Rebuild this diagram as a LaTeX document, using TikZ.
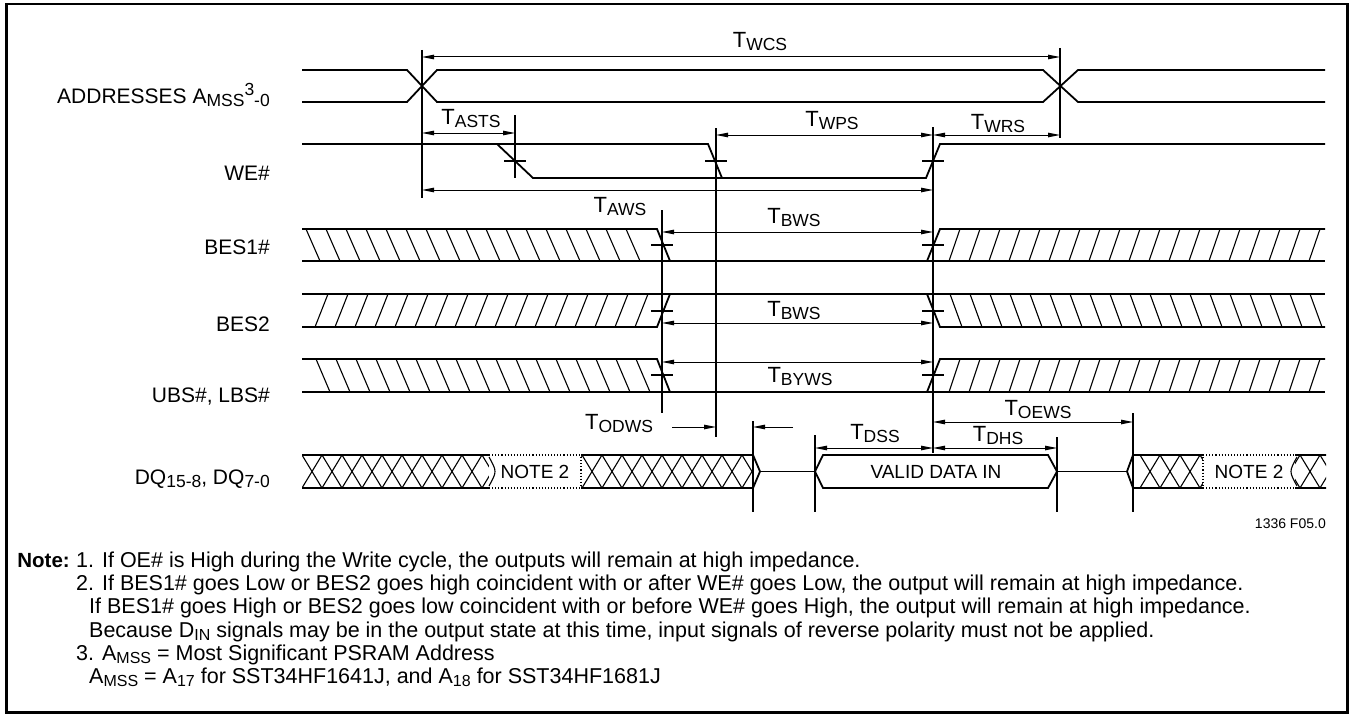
\documentclass[tikz,border=0pt]{standalone}
\usepackage{fontspec}
\setmainfont{Liberation Sans}
\usetikzlibrary{arrows.meta}
\newcommand{\lsub}[1]{\raisebox{-3pt}{\fontsize{17.5}{17.5}\selectfont #1}}
\newcommand{\lsup}[1]{\raisebox{7.5pt}{\fontsize{17.5}{17.5}\selectfont #1}}
\newcommand{\tname}[1]{T\lsub{#1}}
\newcommand{\nsub}[1]{\raisebox{-3pt}{\fontsize{16}{16}\selectfont #1}}
\begin{document}
\begin{tikzpicture}[x=1pt,y=-1pt,line join=miter,
 sig/.style={line width=1.8pt},
 hat/.style={line width=1.1pt},
 guide/.style={line width=1.4pt},
 dimline/.style={line width=1pt,{Triangle[length=12pt,width=4.5pt]}-{Triangle[length=12pt,width=4.5pt]}},
 dimone/.style={line width=1pt,-{Triangle[length=12pt,width=4.5pt]}},
 siglabel/.style={anchor=base east,inner sep=0pt,font=\fontsize{21}{24}\selectfont},
 tlabel/.style={inner sep=0pt,font=\fontsize{22}{24}\selectfont},
 notetext/.style={anchor=base west,inner sep=0pt,font=\fontsize{21.5}{24}\selectfont},
 boxtext/.style={inner sep=0pt,font=\fontsize{19}{20}\selectfont},
]
\useasboundingbox (0,0) rectangle (1351,717);
\draw[line width=2.5pt] (6.5,4) rectangle (1347.5,712.5);

% signal labels
\node[siglabel] (lAddr) at (270,103) {ADDRESSES A\lsub{MSS}\lsup{3}\lsub{-0}};
\node[siglabel] (lWE) at (270,180) {WE\#};
\node[siglabel] (lB1) at (270,254) {BES1\#};
\node[siglabel] (lB2) at (270,331) {BES2};
\node[siglabel] (lUB) at (270,402) {UBS\#, LBS\#};
\node[siglabel] (lDQ) at (270,484) {DQ\lsub{15-8}, DQ\lsub{7-0}};

% addresses
\draw[sig] (302,70) -- (407,70) -- (437,102) -- (1043,102) -- (1078,70) -- (1325,70);
\draw[sig] (302,102) -- (407,102) -- (437,70) -- (1043,70) -- (1078,102) -- (1325,102);

% WE#
\draw[sig] (302,144) -- (708,144) -- (722,178) -- (926,178) -- (940,144) -- (1325,144);
\draw[sig] (497,144) -- (533,178) -- (722,178);

% BES1#
\draw[sig] (302,229) -- (657,229) -- (670,261);
\draw[sig] (302,261) -- (1325,261);
\draw[sig] (927,261) -- (940,229) -- (1325,229);
\foreach \b in {320,340,...,640} \draw[hat] ({\b-14},229) -- (\b,261);
\foreach \b in {949,969,...,1309} \draw[hat] (\b,261) -- ({\b+11},229);

% BES2
\draw[sig] (302,294) -- (1325,294);
\draw[sig] (302,327) -- (657,327) -- (670,294);
\draw[sig] (927,294) -- (940,327) -- (1325,327);
\foreach \b in {315,335,...,635} \draw[hat] (\b,327) -- ({\b+13},294);
\foreach \t in {950,970,...,1310} \draw[hat] (\t,294) -- ({\t+12},327);

% UBS#, LBS#
\draw[sig] (302,359) -- (657,359) -- (670,392);
\draw[sig] (302,392) -- (1325,392);
\draw[sig] (927,392) -- (940,359) -- (1325,359);
\foreach \b in {330,350,...,650} \draw[hat] ({\b-14},359) -- (\b,392);
\foreach \b in {949,969,...,1309} \draw[hat] (\b,392) -- ({\b+11},359);

% DQ left
\draw[sig] (302,455) -- (753,455) -- (760,471.5) -- (753,488) -- (302,488);
\begin{scope}
 \clip (302,455) rectangle (753,488);
 \foreach \k in {0,...,22} {
  \draw[hat] ({302+20*\k},455) -- ({322+20*\k},488);
  \draw[hat] ({322+20*\k},455) -- ({302+20*\k},488);
 }
\end{scope}
\fill[white] (489,453) rectangle (581,490);
\draw[hat,dotted] (489,455) -- (581,455);
\draw[hat,dotted] (489,488) -- (581,488);
\draw[hat] (489,457) .. controls (497,471.5) .. (489,486);
\draw[hat,dotted] (581,457) -- (581,486);
\node[boxtext] (note2a) at (535,472) {NOTE 2};

% high-Z and valid data
\draw[sig] (760,471.5) -- (815,471.5);
\draw[sig] (815,471.5) -- (823,455) -- (1048,455) -- (1057,471.5) -- (1048,488) -- (823,488) -- cycle;
\node[boxtext] (vdi) at (936,472) {VALID DATA IN};
\draw[sig] (1057,471.5) -- (1127,471.5);

% DQ right
\draw[sig] (1326,455) -- (1133,455) -- (1127,471.5) -- (1133,488) -- (1326,488);
\begin{scope}
 \clip (1133,455) rectangle (1326,488);
 \foreach \k in {0,...,10} {
  \draw[hat] ({1140+20*\k},455) -- ({1160+20*\k},488);
  \draw[hat] ({1160+20*\k},455) -- ({1140+20*\k},488);
 }
\end{scope}
\fill[white] (1203,453) rectangle (1295,490);
\draw[hat,dotted] (1203,455) -- (1295,455);
\draw[hat,dotted] (1203,488) -- (1295,488);
\draw[hat,dotted] (1203,457) -- (1203,486);
\draw[hat] (1297,457) .. controls (1289,471.5) .. (1297,486);
\node[boxtext] (note2b) at (1249,472) {NOTE 2};

% guide lines
\draw[guide] (422,50) -- (422,198);
\draw[guide] (1060,48) -- (1060,138);
\draw[guide] (515,115) -- (515,178);
\draw[guide] (716,128) -- (716,437);
\draw[guide] (933,127) -- (933,453);
\draw[guide] (662,210) -- (662,413);
\draw[guide] (753,421) -- (753,512);
\draw[guide] (815,435) -- (815,512);
\draw[guide] (1057,437) -- (1057,512);
\draw[guide] (1133,413) -- (1133,512);

% crossing ticks
\foreach \x/\y in {515/161,716/161,933/161,662/245,933/245,662/311,933/311,662/375,933/375}
  \draw[guide] ({\x-11},\y) -- ({\x+11},\y);

% dimension arrows
\draw[dimline] (422,57) -- (1060,57);
\draw[dimline] (422,133) -- (515,133);
\draw[dimline] (716,135) -- (933,135);
\draw[dimline] (933,135) -- (1060,135);
\draw[dimline] (422,190) -- (933,190);
\draw[dimline] (662,232) -- (933,232);
\draw[dimline] (662,323) -- (933,323);
\draw[dimline] (662,362) -- (933,362);
\draw[dimone] (672,427) -- (716,427);
\draw[dimone] (793,427) -- (753,427);
\draw[dimline] (815,448) -- (933,448);
\draw[dimline] (933,448) -- (1057,448);
\draw[dimline] (933,422) -- (1133,422);

% timing labels
\node[tlabel] (tWCS) at (760,42) {\tname{WCS}};
\node[tlabel] (tASTS) at (471,119) {\tname{ASTS}};
\node[tlabel] (tWPS) at (832,121) {\tname{WPS}};
\node[tlabel] (tWRS) at (998,124) {\tname{WRS}};
\node[tlabel] (tAWS) at (620,207) {\tname{AWS}};
\node[tlabel] (tBWS1) at (794,218) {\tname{BWS}};
\node[tlabel] (tBWS2) at (794,311) {\tname{BWS}};
\node[tlabel] (tBYWS) at (800,377) {\tname{BYWS}};
\node[tlabel] (tODWS) at (619,424) {\tname{ODWS}};
\node[tlabel] (tDSS) at (875,434) {\tname{DSS}};
\node[tlabel] (tDHS) at (998,436) {\tname{DHS}};
\node[tlabel] (tOEWS) at (1038,410) {\tname{OEWS}};

\node[anchor=base east,inner sep=0pt,font=\fontsize{14}{15}\selectfont] (fig) at (1326,528) {1336 F05.0};

% notes
\node[anchor=base east,inner sep=0pt,font=\bfseries\fontsize{20.5}{24}\selectfont] (n0) at (70,567.5) {Note:};
\node[notetext] (n1) at (76,567.5) {1. If OE\# is High during the Write cycle, the outputs will remain at high impedance.};
\node[notetext] (n2) at (76,590.7) {2. If BES1\# goes Low or BES2 goes high coincident with or after WE\# goes Low, the output will remain at high impedance.};
\node[notetext] (n3) at (89,613.9) {If BES1\# goes High or BES2 goes low coincident with or before WE\# goes High, the output will remain at high impedance.};
\node[notetext] (n4) at (89,637.1) {Because D\nsub{IN} signals may be in the output state at this time, input signals of reverse polarity must not be applied.};
\node[notetext] (n5) at (76,660.3) {3. A\nsub{MSS} = Most Significant PSRAM Address};
\node[notetext] (n6) at (89,683.5) {A\nsub{MSS} = A\nsub{17} for SST34HF1641J, and A\nsub{18} for SST34HF1681J};
\end{tikzpicture}
\end{document}
